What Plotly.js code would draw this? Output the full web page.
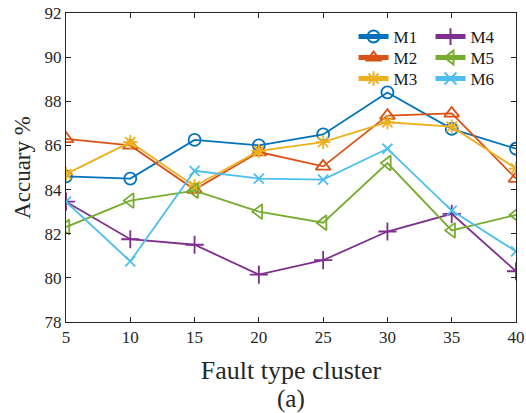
<!DOCTYPE html>
<html>
<head>
<meta charset="utf-8">
<script src="https://cdn.plot.ly/plotly-3.0.1.min.js"></script>
<style>html,body{margin:0;padding:0;background:#fff;}#chart{width:526px;height:413px;}</style>
</head>
<body>
<div id="chart"></div>
<script>
const clusters = [5, 10, 15, 20, 25, 30, 35, 40];
const M1 = [84.6, 84.5, 86.25, 86.0, 86.5, 88.4, 86.75, 85.85];
const M2 = [86.3, 86.0, 84.0, 85.7, 85.05, 87.35, 87.45, 84.5];
const M3 = [84.7, 86.15, 84.15, 85.75, 86.15, 87.05, 86.85, 84.95];
const M4 = [83.45, 81.75, 81.5, 80.15, 80.8, 82.1, 82.9, 80.3];
const M5 = [82.3, 83.5, 83.95, 83.0, 82.5, 85.2, 82.15, 82.85];
const M6 = [83.45, 80.75, 84.85, 84.5, 84.45, 85.85, 83.05, 81.2];
const seriesNames = ['M1', 'M2', 'M3', 'M4', 'M5', 'M6'];
const yTicks = [78, 80, 82, 84, 86, 88, 90, 92];

const series = [M1, M2, M3, M4, M5, M6];
const colors = ['#0072BD', '#D95319', '#EDB120', '#7E2F8E', '#77AC30', '#4DBEEE'];
const symbols = ['circle-open', 'triangle-up-open', 'asterisk-open', 'cross-thin-open', 'triangle-left-open', 'x-thin-open'];
const sizes = [12, 13, 12, 13, 13, 10];
const legendIds = ['legend', 'legend2', 'legend3', 'legend4', 'legend5', 'legend6'];

const traces = series.map((vals, i) => ({
  x: clusters, y: vals, name: seriesNames[i], type: 'scatter', mode: 'lines+markers',
  line: {color: colors[i], width: 1.8},
  marker: {symbol: symbols[i], size: sizes[i], color: colors[i], line: {color: colors[i], width: 1.8}},
  legend: legendIds[i]
}));

const serif = 'Liberation Serif';
const axisCommon = {
  showline: true, mirror: 'ticks', linecolor: '#262626', linewidth: 1,
  ticks: 'inside', ticklen: 5, tickcolor: '#262626', showgrid: false, zeroline: false,
  tickfont: {family: serif, size: 17, color: '#262626'}
};

const layout = {
  width: 526, height: 413,
  margin: {l: 66, r: 10, t: 13, b: 91},
  paper_bgcolor: '#fff', plot_bgcolor: '#fff',
  font: {family: serif, size: 17, color: '#262626'},
  xaxis: Object.assign({}, axisCommon, {
    range: [5, 40], tickvals: clusters, ticktext: clusters.map(String),
    title: {text: 'Fault type cluster', font: {family: serif, size: 26, color: '#262626'}, standoff: 14}
  }),
  yaxis: Object.assign({}, axisCommon, {
    range: [78, 92], tickvals: yTicks, ticktext: yTicks.map(String),
    title: {text: 'Accuary %', font: {family: serif, size: 23, color: '#262626'}, standoff: 7}
  }),
  annotations: [{
    text: '(a)', xref: 'paper', yref: 'paper', x: 0.5, y: -0.25, xanchor: 'center', yanchor: 'middle',
    showarrow: false, font: {family: serif, size: 25, color: '#262626'}
  }],
  showlegend: true
};

const colX = [0.639, 0.81];
const rowPx = [37, 58, 79];
legendIds.forEach((id, i) => {
  const col = i < 3 ? 0 : 1;
  const row = i % 3;
  layout[id] = {
    font: {family: serif, size: 17, color: '#1a1a1a'}, bgcolor: 'rgba(0,0,0,0)', borderwidth: 0,
    xanchor: 'left', yanchor: 'middle', itemsizing: 'constant',
    x: colX[col], y: (322 - rowPx[row]) / 309
  };
});

Plotly.newPlot('chart', traces, layout, {displayModeBar: false, staticPlot: true});
</script>
</body>
</html>
